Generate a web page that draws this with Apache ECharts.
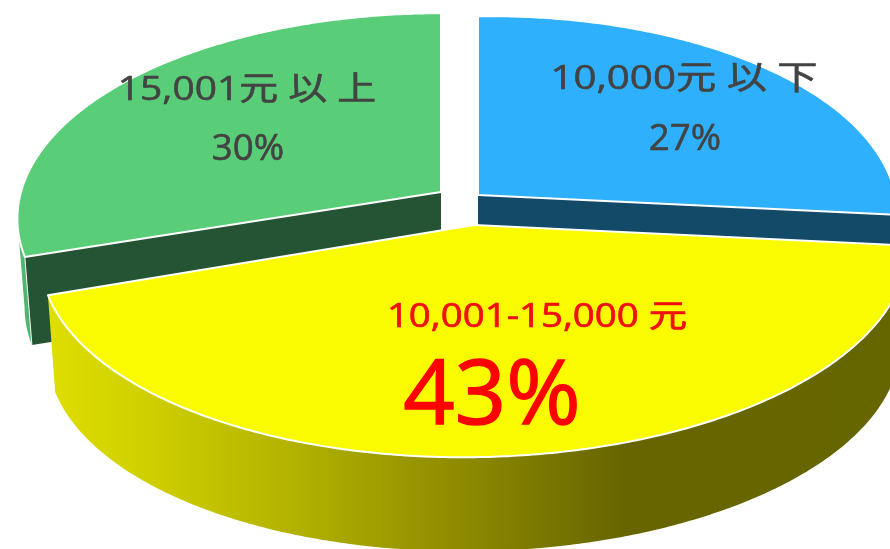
<!DOCTYPE html>
<html>
<head>
<meta charset="utf-8">
<style>html,body{margin:0;padding:0;background:#fff}#chart{width:890px;height:549px}</style>
<script src="https://cdn.jsdelivr.net/npm/echarts@6/dist/echarts.min.js"></script>
</head>
<body>
<div id="chart"></div>
<script>
// Income bands and their shares, clockwise from twelve o'clock.
const categories = ['10,000元 以 下', '10,001-15,000 元', '15,001元 以 上'];
const shares = [27, 43, 30];

// Perspective disc shared by all wedges.
const tilt = { radiusY: 202, perspective: 0.13, bottomScale: 0.983 };

// Per-wedge placement and paint.
const wedges = [
  { apex: [478, 195], radiusX: 416, shear: 0.014, depth: 89, top: '#2fb0fd', wall: '#134a68', order: 10,
    name: { x: 684, y: 80, size: 33, fill: '#434343', stretch: 1.22, weight: 0.6 },
    pct:  { x: 685, y: 140, size: 36, fill: '#434343', stretch: 1.02, weight: 0.6 } },
  { apex: [474, 225], radiusX: 430, shear: 0.012, depth: 98, top: '#fbfb00', order: 30,
    name: { x: 537, y: 318, size: 32, fill: '#f01010', stretch: 1.2, weight: 0.7 },
    pct:  { x: 492, y: 398, size: 90, fill: '#ff0000', stretch: 1, weight: 1.4 } },
  { apex: [441, 192], radiusX: 420, shear: 0, depth: 89, top: '#5acd78', wall: '#245433', rim: '#4fb56f', order: 10,
    name: { x: 247, y: 91, size: 33, fill: '#434343', stretch: 1.18, weight: 0.6 },
    pct:  { x: 248, y: 150, size: 36, fill: '#434343', stretch: 1.02, weight: 0.6 } }
];

const yellowWallStops = [
  { offset: 0, color: '#e6e600' },
  { offset: 0.07, color: '#dcdc00' },
  { offset: 0.16, color: '#d0d000' },
  { offset: 0.32, color: '#b4b400' },
  { offset: 0.51, color: '#8f8c00' },
  { offset: 0.7, color: '#676500' },
  { offset: 1, color: '#666600' }
];

function project(w, angle, lower) {
  const c = Math.cos(angle), s = Math.sin(angle);
  const f = lower ? tilt.bottomScale : 1;
  const d = 1 - tilt.perspective * s;
  const dx = f * w.radiusX * c / d;
  return [
    w.apex[0] + dx,
    w.apex[1] + (lower ? w.depth : 0) + f * tilt.radiusY * s / d - w.shear * dx
  ];
}

function arc(w, from, to, lower) {
  const n = Math.max(2, Math.ceil(Math.abs(to - from) / 0.01));
  const pts = [];
  for (let i = 0; i <= n; i++) pts.push(project(w, from + (to - from) * i / n, lower));
  return pts;
}

const total = shares.reduce((a, b) => a + b, 0);

function label(spec, text, z2) {
  return {
    type: 'text', x: spec.x, y: spec.y, scaleX: spec.stretch, z2,
    style: {
      text, fill: spec.fill, fontSize: spec.size,
      stroke: spec.fill, lineWidth: spec.weight,
      fontFamily: '"Open Sans","Noto Sans CJK TC",sans-serif',
      align: 'center', verticalAlign: 'middle'
    }
  };
}

function renderItem(params, api) {
  const i = params.dataIndex;
  const w = wedges[i];
  let before = 0;
  for (let k = 0; k < i; k++) before += shares[k];
  const start = -Math.PI / 2 + before / total * 2 * Math.PI;
  const end = start + api.value(0) / total * 2 * Math.PI;
  const kids = [];
  const z = w.order;

  // Cut face of the wedge, seen where the wedges are pulled apart.
  if (w.wall) {
    const edge = i === 0 ? end : start;
    const outer = project(w, edge, false), outerLow = project(w, edge, true);
    const innerLow = [w.apex[0], w.apex[1] + w.depth];
    if (w.rim) {
      // Sliver of the curved wall up to the widest point of the disc.
      const sweep = arc(w, start, start + 0.18, false);
      const low = arc(w, start, start + 0.18, true).reverse();
      kids.push({ type: 'polygon', z2: z, shape: { points: sweep.concat(low) }, style: { fill: w.rim } });
    }
    kids.push({ type: 'polygon', z2: z + 1, shape: { points: [w.apex, outer, outerLow, innerLow] }, style: { fill: w.wall } });
    kids.push({ type: 'line', z2: z + 2, shape: { x1: outer[0], y1: outer[1], x2: outerLow[0], y2: outerLow[1] },
      style: { stroke: '#f4f8f4', lineWidth: 1 } });
  } else {
    // Curved outer wall of the front wedge.
    const upper = arc(w, start, end, false);
    const lower = arc(w, start, end, true).reverse();
    kids.push({ type: 'polygon', z2: z, shape: { points: upper.concat(lower) },
      style: { fill: new echarts.graphic.LinearGradient(0, 0, 890, 0, yellowWallStops, true) } });
  }

  // Top face.
  kids.push({ type: 'polygon', z2: z + 3, shape: { points: [w.apex].concat(arc(w, start, end, false)) },
    style: { fill: w.top, stroke: '#ffffff', lineWidth: 2, lineJoin: 'round' } });

  kids.push(label(w.name, categories[i], 100));
  kids.push(label(w.pct, api.value(0) + '%', 100));
  return { type: 'group', children: kids };
}

const chart = echarts.init(document.getElementById('chart'), null, { renderer: 'canvas' });
chart.setOption({
  backgroundColor: '#ffffff',
  animation: false,
  series: [{
    type: 'custom',
    coordinateSystem: 'none',
    silent: true,
    renderItem,
    data: shares.map(v => [v])
  }]
});
</script>
</body>
</html>
